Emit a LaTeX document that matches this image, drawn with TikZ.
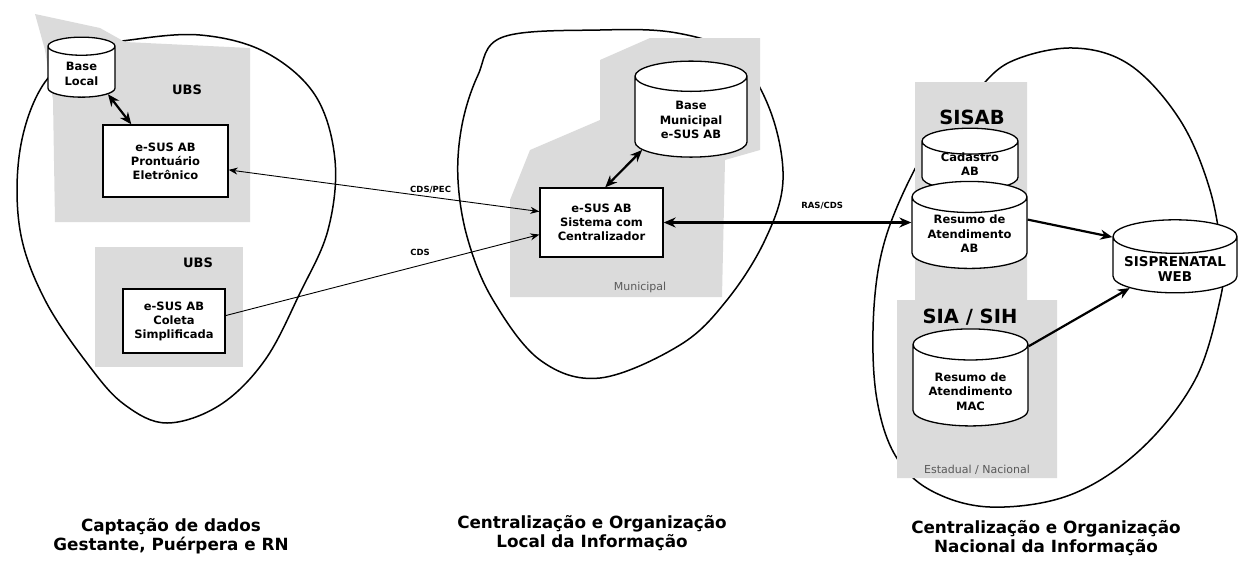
\documentclass[tikz,border=0pt]{standalone}
\usepackage{fontspec}
\setmainfont{DejaVu Sans}
\usepackage{tikz}
\usetikzlibrary{arrows.meta,shapes.geometric}

\tikzset{
    egg/.style={line width=1.5pt},
    zone/.style={fill=black!14},
    sysbox/.style={draw, line width=1.3pt, fill=white, align=center, inner sep=0pt,
        font=\fontsize{11.5}{14}\selectfont\bfseries},
    dbase/.style={draw, line width=1.3pt, fill=white, inner sep=0pt,
        cylinder, shape border rotate=90, aspect=0.27},
    dbtext/.style={align=center, inner sep=0pt, font=\fontsize{11.5}{14.5}\selectfont\bfseries},
    zonetitle/.style={font=\fontsize{13}{15}\selectfont\bfseries},
    bigtitle/.style={font=\fontsize{19.5}{21}\selectfont\bfseries},
    zonename/.style={font=\fontsize{11}{13}\selectfont, text=black!65},
    flowtag/.style={font=\fontsize{8.5}{9}\selectfont\bfseries},
    footer/.style={align=center, font=\fontsize{16.8}{19.5}\selectfont\bfseries},
    datalink/.style={line width=0.9pt, {Stealth[length=9pt,width=7pt]}-{Stealth[length=9pt,width=7pt]}},
    sendlink/.style={line width=0.9pt, -{Stealth[length=9pt,width=7pt]}},
    bigboth/.style={line width=2.2pt, {Stealth[length=12pt,width=10pt]}-{Stealth[length=12pt,width=10pt]}},
    bigflow/.style={line width=2.2pt, -{Stealth[length=12pt,width=10pt]}},
}

\begin{document}
\begin{tikzpicture}[x=1pt,y=-1pt]
    \useasboundingbox (0,0) rectangle (1239,560);

    % eggs
    \draw[egg] plot[smooth cycle, tension=0.6] coordinates {(130,40) (200,35) (265,52) (315,95) (335,160) (328,230) (300,293) (265,360) (220,405) (167,423) (125,405) (90,367) (45,300) (20,230) (20,150) (43,85) (85,50)};
    \draw[egg] plot[smooth cycle, tension=0.6] coordinates {(503,37) (600,30) (677,33) (735,55) (770,110) (783,180) (765,240) (727,300) (680,345) (600,378) (540,360) (493,300) (468,240) (458,180) (462,125) (478,75)};
    \draw[egg] plot[smooth cycle, tension=0.6] coordinates {(973,95) (1010,62) (1073,48) (1130,65) (1180,120) (1210,190) (1222,260) (1220,300) (1195,380) (1140,450) (1070,495) (990,507) (930,490) (895,455) (877,400) (873,330) (880,260) (900,200) (935,135)};

    % grey zones
    \fill[zone] (35,14) -- (100,28) -- (125,42) -- (250,48) -- (250,222) -- (55,222) -- (53,100) -- (45,50) -- cycle;
    \fill[zone] (95,247) rectangle (243,367);
    \fill[zone] (510,297) -- (510,200) -- (530,150) -- (600,120) -- (600,60) -- (650,38) -- (760,38) -- (760,150) -- (725,160) -- (722,297) -- cycle;
    \fill[zone] (915,82) -- (1027,82) -- (1027,300) -- (1057,300) -- (1057,478) -- (897,478) -- (897,300) -- (915,300) -- cycle;

    % captação
    \node[zonetitle] (ubsa) at (187,90) {UBS};
    \node[zonetitle] (ubsb) at (198,263) {UBS};
    \node[dbase, minimum width=67, minimum height=60, label={[dbtext, yshift=-2pt]center:{Base\\Local}}] (baselocal) at (81.5,72) {\rule{67pt}{0pt}};
    \node[sysbox, minimum width=125, minimum height=72] (pec) at (165.5,161) {e-SUS AB\\Prontuário\\Eletrônico};
    \node[sysbox, minimum width=102, minimum height=64] (coleta) at (174,321) {e-SUS AB\\Coleta\\Simplificada};

    % municipal
    \node[dbase, minimum width=112, minimum height=96, label={[dbtext, yshift=-3pt]center:{Base\\Municipal\\e-SUS AB}}] (basemun) at (691,117) {\rule{112pt}{0pt}};
    \node[sysbox, minimum width=123, minimum height=69] (sys) at (601.5,222.5) {e-SUS AB\\Sistema com\\Centralizador};
    \node[zonename] (municipal) at (640,287) {Municipal};

    % nacional
    \node[bigtitle] (sisab) at (972,117) {SISAB};
    \node[dbase, minimum width=96, minimum height=62, label={[dbtext, yshift=2pt]center:{Cadastro\\AB}}] (cadastro) at (970,166) {\rule{96pt}{0pt}};
    \node[dbase, minimum width=115, minimum height=87, label={[dbtext, yshift=-1pt]center:{Resumo de\\Atendimento\\AB}}] (resab) at (969.5,233) {\rule{115pt}{0pt}};
    \node[bigtitle] (siasih) at (970,317) {SIA / SIH};
    \node[dbase, minimum width=115, minimum height=97, label={[dbtext, yshift=-6pt]center:{Resumo de\\Atendimento\\MAC}}] (resmac) at (970.5,385.5) {\rule{115pt}{0pt}};
    \node[dbase, minimum width=124, minimum height=73, label={[dbtext, yshift=-4pt, font=\fontsize{13.5}{15}\selectfont\bfseries]center:{SISPRENATAL\\WEB}}] (sisprenatal) at (1175,265) {\rule{124pt}{0pt}};
    \node[zonename] (estadual) at (977,470) {Estadual / Nacional};

    % connectors
    \draw[bigboth] (baselocal.-40) -- (pec.133);
    \draw[datalink] (sys.170) -- node[flowtag, above, pos=0.35] {CDS/PEC} (pec.-8);
    \draw[sendlink] (coleta.6) -- node[flowtag, above=6pt, pos=0.62] {CDS} (sys.191);
    \draw[bigboth] (basemun.214) -- (sys.84);
    \draw[bigboth] (sys.east) -- node[flowtag, above=9pt, pos=0.64] {RAS/CDS} (sys.east -| resab.west);
    \draw[bigflow] (resab.13) -- (sisprenatal.156);
    \draw[bigflow] (resmac.34) -- (sisprenatal.207);

    % titles
    \node[footer] (captacao) at (171,536) {Captação de dados\\Gestante, Puérpera e RN};
    \node[footer] (local) at (592,533) {Centralização e Organização\\Local da Informação};
    \node[footer] (nacional) at (1046,538) {Centralização e Organização\\Nacional da Informação};
\end{tikzpicture}
\end{document}
